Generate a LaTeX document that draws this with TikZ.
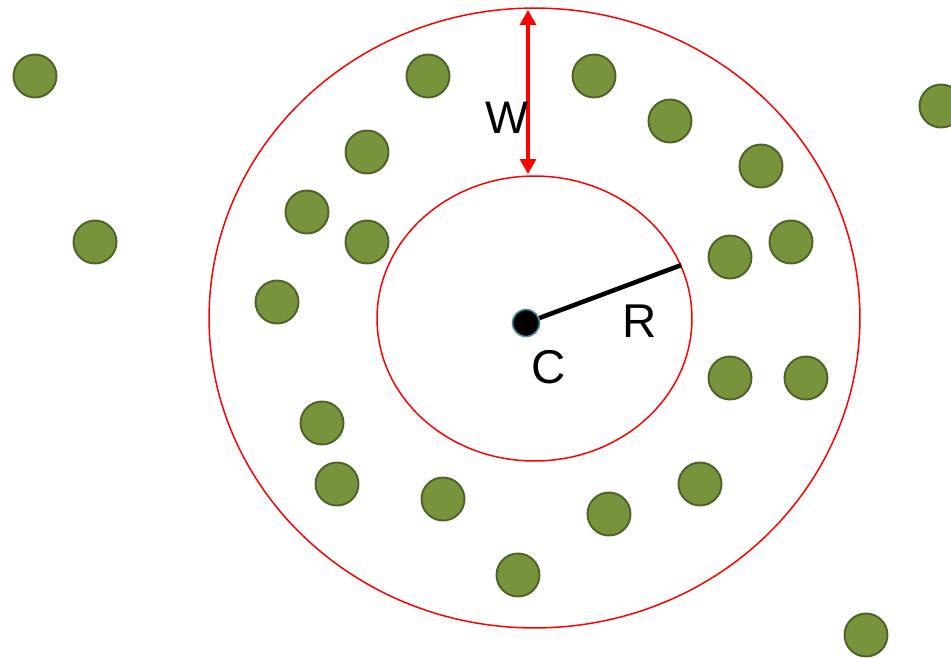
\documentclass[tikz,border=0pt]{standalone}
\usepackage{fontspec}
\setmainfont{Liberation Sans}
\usetikzlibrary{shapes.geometric,arrows.meta}
\definecolor{dotgreen}{HTML}{77933C}
\definecolor{dotedge}{HTML}{4F6228}
\definecolor{cteal}{HTML}{4A8FA3}
\begin{document}
\begin{tikzpicture}[x=0.02cm,y=-0.02cm,
  pt/.style={circle,fill=dotgreen,draw=dotedge,line width=1.1pt,minimum size=0.86cm,inner sep=0pt},
  ring/.style={ellipse,draw=red,line width=0.85pt,inner sep=0pt},
  lbl/.style={font=\fontsize{27}{32}\selectfont,inner sep=0pt}]
\useasboundingbox (0,0) rectangle (951,657);
% rings
\node[ring,minimum width=13.02cm,minimum height=12.4cm] (outer) at (534.5,318) {};
\node[ring,minimum width=6.3cm,minimum height=5.7cm] (inner) at (534.5,318.5) {};
% points
\node[pt] (p1) at (35,76) {};
\node[pt] (p2) at (95,242) {};
\node[pt] (p3) at (428,76) {};
\node[pt] (p4) at (594,76) {};
\node[pt] (p5) at (670,121) {};
\node[pt] (p6) at (761,166) {};
\node[pt] (p7) at (941,106) {};
\node[pt] (p8) at (367,152) {};
\node[pt] (p9) at (307,212) {};
\node[pt] (p10) at (367,242) {};
\node[pt] (p11) at (730,257) {};
\node[pt] (p12) at (791,242) {};
\node[pt] (p13) at (277,302) {};
\node[pt] (p14) at (730,378) {};
\node[pt] (p15) at (806,378) {};
\node[pt] (p16) at (322,423) {};
\node[pt] (p17) at (337,484) {};
\node[pt] (p18) at (443,499) {};
\node[pt] (p19) at (609,514) {};
\node[pt] (p20) at (700,484) {};
\node[pt] (p21) at (518,575) {};
\node[pt] (p22) at (866,635) {};
% width arrow
\coordinate (wtop) at (528,10);
\coordinate (wbot) at (528,174);
\draw[red,line width=1.8pt,{Triangle[width=0.32cm,length=0.3cm]}-{Triangle[width=0.32cm,length=0.3cm]}] (wtop) -- (wbot);
\node[lbl,font=\fontsize{26}{30}\selectfont] (w) at (507,118) {W};
% center and radius
\node[circle,fill=black,draw=cteal,line width=0.9pt,minimum size=0.54cm,inner sep=0pt] (c) at (526,323) {};
\coordinate (rend) at (inner.20);
\draw[line width=2.6pt] (c) -- (rend);
\node[lbl] (r) at (640,321) {R};
\node[lbl] (cl) at (549,367) {C};
\end{tikzpicture}
\end{document}
